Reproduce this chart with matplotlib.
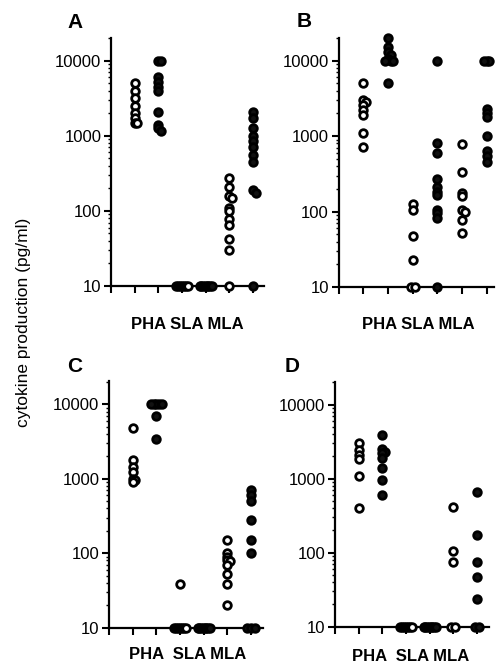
import numpy as np
import matplotlib
matplotlib.use("Agg")
import matplotlib.pyplot as plt
from matplotlib.ticker import LogLocator, NullFormatter, FixedLocator, FixedFormatter

plt.rcParams['font.family'] = ['Liberation Sans', 'DejaVu Sans']

# ---------------- data (pg/ml) ----------------
groups = ["PHA", "SLA", "MLA"]
tick_values = [10, 100, 1000, 10000]
tick_labels = ["10", "100", "1000", "10000"]
panel_letters = ["A", "B", "C", "D"]

a_pha_open = [5000, 4000, 3200, 2500, 2000, 1700, 1500, 1500]
a_pha_fill = [10000, 10000, 6000, 5200, 4500, 3900, 2100, 1400, 1250, 1150]
a_sla_open = [10, 10, 10, 10, 10, 10, 10]
a_sla_fill = [10, 10, 10, 10, 10, 10, 10, 10]
a_mla_open = [270, 210, 160, 150, 110, 100, 78, 65, 42, 30, 10]
a_mla_fill = [2100, 1700, 1250, 1000, 850, 700, 550, 450, 190, 175, 10]

b_pha_open = [5000, 3000, 2800, 2600, 2200, 1900, 1100, 720]
b_pha_fill = [20000, 15000, 13000, 12000, 10500, 10000, 10000, 10000, 5000]
b_sla_open = [125, 105, 47, 23, 10, 10]
b_sla_fill = [10000, 800, 600, 270, 210, 180, 165, 105, 95, 82, 10]
b_mla_open = [780, 330, 175, 160, 105, 100, 77, 52]
b_mla_fill = [10000, 10000, 10000, 2300, 2000, 1800, 1000, 630, 550, 450]

c_pha_open = [4800, 1800, 1450, 1250, 1000, 950, 900]
c_pha_fill = [10000, 10000, 10000, 10000, 10000, 7000, 3400]
c_sla_open = [38, 10, 10, 10, 10, 10, 10, 10]
c_sla_fill = [10, 10, 10, 10, 10, 10, 10, 10]
c_mla_open = [150, 100, 90, 82, 78, 70, 52, 38, 20]
c_mla_fill = [700, 600, 500, 280, 150, 100, 10, 10, 10]

d_pha_open = [3000, 2400, 2100, 1850, 1100, 400]
d_pha_fill = [3900, 2500, 2300, 2200, 1900, 1400, 950, 600]
d_sla_open = [10, 10, 10, 10, 10, 10, 10]
d_sla_fill = [10, 10, 10, 10, 10, 10, 10, 10]
d_mla_open = [420, 105, 75, 10, 10]
d_mla_fill = [650, 175, 75, 47, 24, 10, 10]

panels = [
    [a_pha_open, a_pha_fill, a_sla_open, a_sla_fill, a_mla_open, a_mla_fill],
    [b_pha_open, b_pha_fill, b_sla_open, b_sla_fill, b_mla_open, b_mla_fill],
    [c_pha_open, c_pha_fill, c_sla_open, c_sla_fill, c_mla_open, c_mla_fill],
    [d_pha_open, d_pha_fill, d_sla_open, d_sla_fill, d_mla_open, d_mla_fill],
]

# ---------------- layout ----------------
W, H = 496, 671
fig = plt.figure(figsize=(W / 100, H / 100), dpi=100)

# (left px, right px, top px, bottom px, xmax, ymax)
geo = [
    (111, 264, 38, 286, 6.46, 20000),
    (338.5, 494, 38, 287, 6.3, 20000),
    (109, 263, 380.5, 627.5, 6.5, 21000),
    (335, 489, 382.3, 626.7, 6.5, 20000),
]
letter_pos = [(67, 28), (297, 27), (67, 372), (285, 372)]
cat_pos = [(187.5, 329, "PHA SLA MLA"), (418.5, 329, "PHA SLA MLA"),
           (188, 659, "PHA  SLA MLA"), (411, 661, "PHA  SLA MLA")]

FLOOR = 10


def offsets(vals, px_per_dec, px_per_unit, mind=2.8, step=2.8):
    vals = np.asarray(vals, float)
    out = np.zeros(len(vals))
    floor_idx = np.where(vals <= FLOOR)[0]
    n = len(floor_idx)
    if n > 1:
        hw = min(2.0 * (n - 1), 6.0)
        out[floor_idx] = np.linspace(-hw, hw, n) / px_per_unit
    other = [i for i in np.argsort(-vals) if vals[i] > FLOOR]
    placed = []
    for i in other:
        y = np.log10(vals[i]) * px_per_dec
        for k in [0, 1, -1, 2, -2, 3, -3, 4, -4]:
            x = k * step
            if all(np.hypot(x - xp, y - yp) >= mind - 1e-6 for xp, yp in placed):
                break
        placed.append((x, y))
        out[i] = x / px_per_unit
    return out


for p, (data, g) in enumerate(zip(panels, geo)):
    l, r, t, b, xmax, ymax = g
    ax = fig.add_axes([l / W, 1 - b / H, (r - l) / W, (b - t) / H])
    ax.set_yscale('log')
    ax.set_ylim(FLOOR, ymax)
    ax.set_xlim(0, xmax)
    px_per_unit = (r - l) / xmax
    px_per_dec = (b - t) / np.log10(ymax / FLOOR)
    for c, vals in enumerate(data):
        xs = (c + 1) + offsets(vals, px_per_dec, px_per_unit)
        filled = (c % 2 == 1)
        ax.scatter(xs, vals, s=30, marker='o',
                   facecolors='#111111' if filled else 'white',
                   edgecolors='black', linewidths=2.0,
                   clip_on=False, zorder=5)
    for side in ['top', 'right']:
        ax.spines[side].set_visible(False)
    for side in ['left', 'bottom']:
        ax.spines[side].set_linewidth(1.6)
    ax.yaxis.set_major_locator(FixedLocator(tick_values))
    ax.yaxis.set_major_formatter(FixedFormatter(tick_labels))
    ax.yaxis.set_minor_locator(LogLocator(base=10, subs=np.arange(2, 10), numticks=20))
    ax.yaxis.set_minor_formatter(NullFormatter())
    ax.set_xticks(np.arange(0, 7))
    ax.set_xticklabels([])
    ax.tick_params(axis='y', which='major', length=5, width=1.5, pad=2, labelsize=12)
    ax.tick_params(axis='y', which='minor', length=2, width=1.0)
    ax.tick_params(axis='x', which='major', length=5, width=1.5)
    ax.patch.set_visible(False)

    lx, ly = letter_pos[p]
    fig.text(lx / W, 1 - ly / H, panel_letters[p], fontsize=15, fontweight='bold',
             ha='left', va='baseline')
    cx, cy, s = cat_pos[p]
    fig.text(cx / W, 1 - cy / H, s, fontsize=12, fontweight='bold',
             ha='center', va='baseline')

fig.text(24 / W, 1 - 322 / H, "cytokine production (pg/ml)", rotation=90,
         fontsize=12.5, ha='center', va='center')

fig.savefig("out.png", dpi=100)
